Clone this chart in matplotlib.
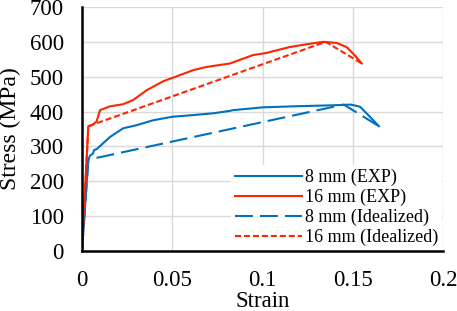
import matplotlib
matplotlib.use("Agg")
import matplotlib.pyplot as plt

plt.rcParams['font.family'] = ['Liberation Serif', 'DejaVu Serif']

# 8 mm experimental
exp8_strain = [0, 0.0035, 0.0045, 0.006, 0.0068, 0.0081, 0.0155, 0.0228, 0.0303, 0.0394, 0.050,
               0.0617, 0.0727, 0.082, 0.0836, 0.100, 0.117, 0.139, 0.149, 0.154, 0.1595, 0.1645]
exp8_stress = [0, 262, 274, 279, 290, 292, 327, 352, 361, 375, 385,
               390, 395, 402, 404, 412, 415, 418, 420, 414, 385, 358]
# 16 mm experimental
exp16_strain = [0, 0.0035, 0.006, 0.0081, 0.010, 0.0155, 0.0228, 0.0283, 0.0358, 0.045, 0.0524,
                0.0617, 0.069, 0.082, 0.0947, 0.102, 0.115, 0.1244, 0.1335, 0.141, 0.1466, 0.151, 0.155]
exp16_stress = [0, 358, 362, 372, 404, 415, 421, 433, 461, 487, 501,
                519, 528, 538, 562, 568, 585, 593, 600, 597, 585, 562, 538]
# idealized
ide8_strain = [0, 0.0035, 0.145, 0.1645]
ide8_stress = [0, 262, 420, 358]
ide16_strain = [0, 0.0035, 0.135, 0.155]
ide16_stress = [0, 358, 600, 538]

blue = '#0070C0'
red = '#FF2400'

fig = plt.figure(figsize=(4.57, 3.11), dpi=100)
ax = fig.add_axes([0.1794, 0.193, 0.79, 0.7845])

ax.plot(exp8_strain, exp8_stress, color=blue, lw=1.5, label='8 mm (EXP)')
ax.plot(exp16_strain, exp16_stress, color=red, lw=1.5, label='16 mm (EXP)')
ax.plot(ide8_strain, ide8_stress, color=blue, lw=1.5, ls=(0, (8.6, 3.4)), label='8 mm (Idealized)')
ax.plot(ide16_strain, ide16_stress, color=red, lw=1.5, ls=(0, (2.9, 1.4)), label='16 mm (Idealized)')

ax.set_xlim(0, 0.2)
ax.set_ylim(0, 700)
ax.set_xticks([0, 0.05, 0.1, 0.15, 0.2])
ax.set_xticklabels(['0', '0.05', '0.1', '0.15', '0.2'])
ax.set_yticks(range(0, 701, 100))
ax.grid(True, color='#d9d9d9', lw=1.0)
ax.set_axisbelow(True)
for s in ['top', 'right']:
    ax.spines[s].set_visible(False)
for s in ['left', 'bottom']:
    ax.spines[s].set_linewidth(1.8)
    ax.spines[s].set_color('black')
ax.tick_params(axis='y', length=0, labelsize=16.5, pad=13)
ax.tick_params(axis='x', length=0, labelsize=16.5, pad=14)
ax.set_xlabel('Strain', fontsize=16.5, labelpad=0)
ax.set_ylabel('Stress (MPa)', fontsize=17, labelpad=6)

leg = ax.legend(loc='lower right', fontsize=13, frameon=True, fancybox=False,
                edgecolor='none', facecolor='white', framealpha=1,
                handlelength=3.7, handletextpad=0.2, labelspacing=0.15,
                borderpad=0.2, borderaxespad=0.05)

fig.savefig('out.png', dpi=100)
